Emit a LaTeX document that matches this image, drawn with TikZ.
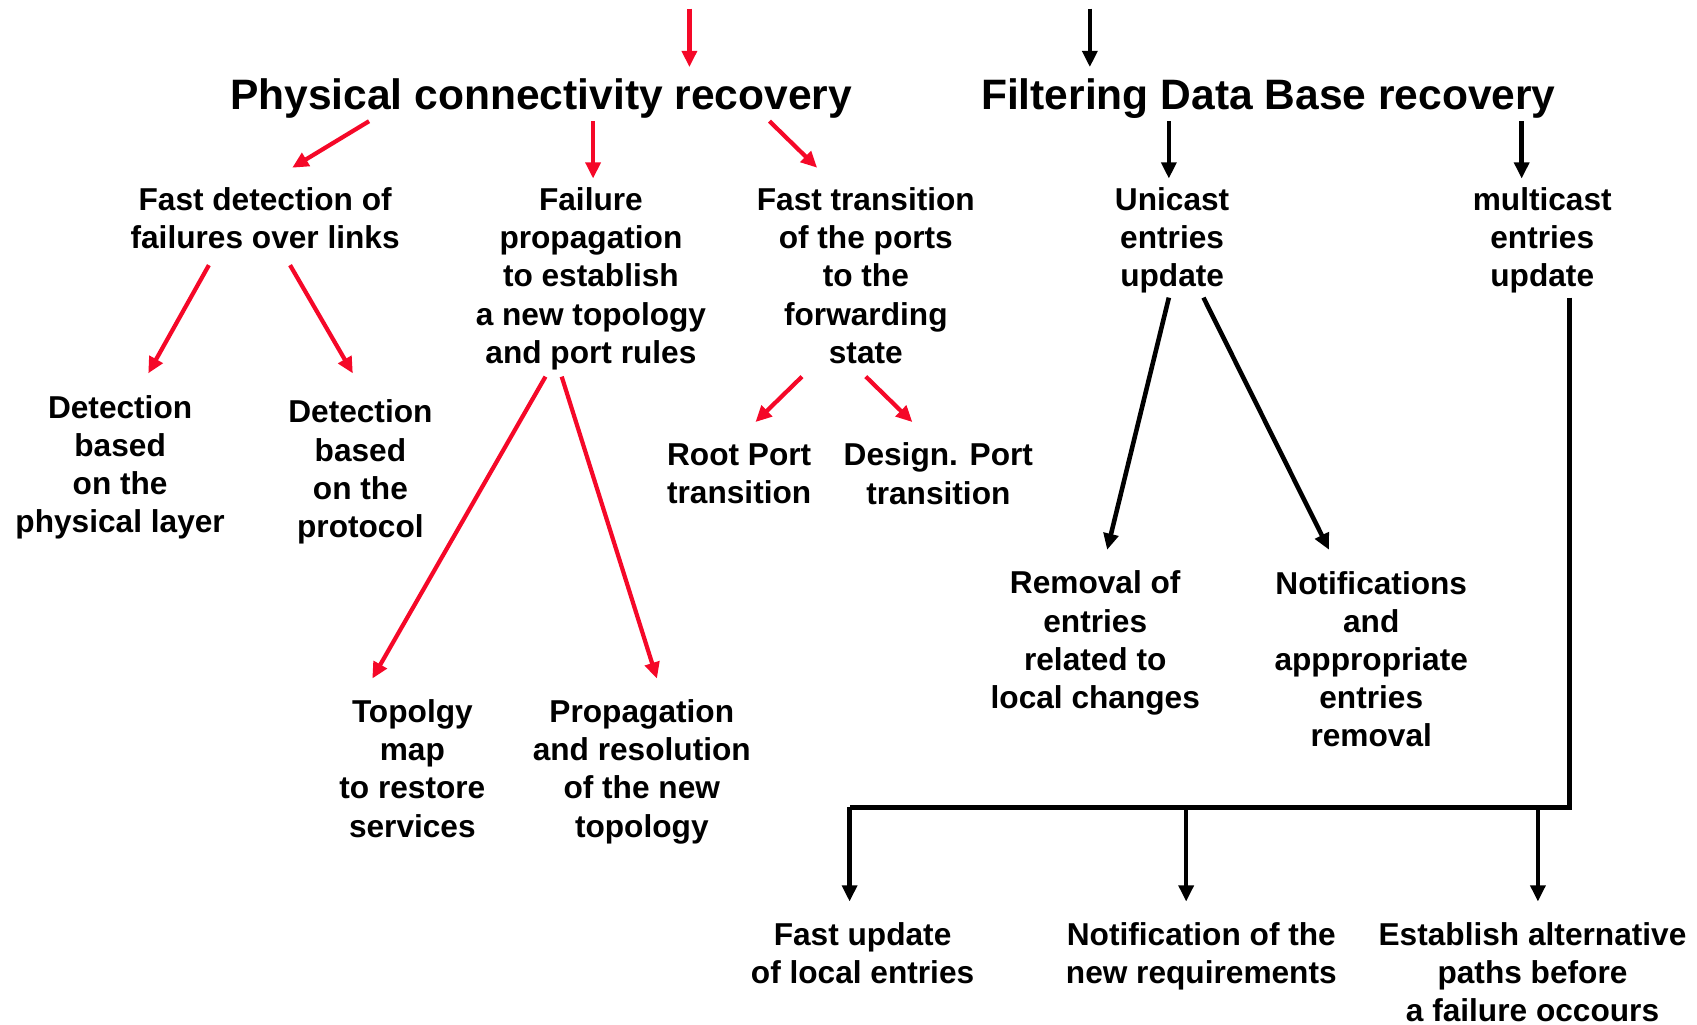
\documentclass[tikz,border=0pt]{standalone}
\usepackage{fontspec}
\setmainfont{Liberation Sans}
\usetikzlibrary{arrows.meta}
\definecolor{linkred}{RGB}{245,8,40}

\begin{document}
\begin{tikzpicture}[
        x=0.010823cm, y=-0.010823cm,
        >={Triangle[length=4.6pt, width=4.2pt]},
        txt/.style={align=center, inner sep=0pt, text depth=0pt, font=\fontsize{9}{10.85}\selectfont\bfseries},
        head/.style={inner sep=0pt, text depth=0pt, font=\fontsize{12.1}{14}\selectfont\bfseries},
        redlink/.style={->, draw=linkred, line width=1.2pt},
        blacklink/.style={->, line width=1.3pt},
        busline/.style={line width=1.4pt, line join=miter}
        ]

        \useasboundingbox (0,0) rectangle (1568,947);

        \coordinate (TopRed) at (637,8);
        \coordinate (TopBlack) at (1007,8);

        \node[head] (PhysRec) at (500,87) {Physical connectivity recovery};
        \node[head] (FDBRec) at (1172,87) {Filtering Data Base recovery};

        \node[txt] (FastDetect) at (245,201.5) {Fast detection of\\failures over links};
        \node[txt] (FailProp) at (546,254.5) {Failure\\propagation\\to establish\\a new topology\\and port rules};
        \node[txt] (FastTrans) at (800,254.5) {Fast transition\\of the ports\\to the\\forwarding\\state};
        \node[txt] (Unicast) at (1083,219) {Unicast\\entries\\update};
        \node[txt] (Multicast) at (1425,219) {multicast\\entries\\update};

        \node[txt] (DetPhys) at (111,429) {Detection\\based\\on the\\physical layer};
        \node[txt] (DetProto) at (333,433) {Detection\\based\\on the\\protocol};
        \node[txt] (RootPort) at (683,437.5) {Root Port\\transition};
        \node[txt] (DesigPort) at (867,437.5) {Design. Port\\transition};

        \node[txt] (TopoMap) at (381,710) {Topolgy\\map\\to restore\\services};
        \node[txt] (PropRes) at (593,710) {Propagation\\and resolution\\of the new\\topology};
        \node[txt] (Removal) at (1012,591) {Removal of\\entries\\related to\\local changes};
        \node[txt] (Notif) at (1267,609) {Notifications\\and\\apppropriate\\entries\\removal};

        \node[txt] (FastUpd) at (797,880.5) {Fast update\\of local entries};
        \node[txt] (NotifReq) at (1110,880.5) {Notification of the\\new requirements};
        \node[txt] (Establish) at (1416,898) {Establish alternative\\paths before\\a failure occours};

        \coordinate (BusLeft) at (785,746);
        \coordinate (BusMid) at (1096,746);
        \coordinate (BusRight) at (1421,746);

        % Edges
        \draw[redlink] (TopRed) -- ([shift={(137,-25)}]PhysRec.center);
        \draw[blacklink] (TopBlack) -- ([shift={(-165,-25)}]FDBRec.center);

        \draw[redlink] ([shift={(-159,25)}]PhysRec.center) -- ([shift={(25,-46.5)}]FastDetect.center);
        \draw[redlink] ([shift={(48,25)}]PhysRec.center) -- ([shift={(2,-89.5)}]FailProp.center);
        \draw[redlink] ([shift={(211,25)}]PhysRec.center) -- ([shift={(-45,-99.5)}]FastTrans.center);
        \draw[blacklink] ([shift={(-92,25)}]FDBRec.center) -- ([shift={(-3,-54)}]Unicast.center);
        \draw[blacklink] ([shift={(234,25)}]FDBRec.center) -- ([shift={(-19,-54)}]Multicast.center);

        \draw[redlink] ([shift={(-52,43.5)}]FastDetect.center) -- ([shift={(26,-84)}]DetPhys.center);
        \draw[redlink] ([shift={(23,43.5)}]FastDetect.center) -- ([shift={(-7,-88)}]DetProto.center);
        \draw[redlink] ([shift={(-42,93.5)}]FailProp.center) -- ([shift={(-37,-83)}]TopoMap.center);
        \draw[redlink] ([shift={(-27,93.5)}]FailProp.center) -- ([shift={(14,-83)}]PropRes.center);
        \draw[redlink] ([shift={(-59,93.5)}]FastTrans.center) -- ([shift={(15,-47.5)}]RootPort.center);
        \draw[redlink] ([shift={(0,93.5)}]FastTrans.center) -- ([shift={(-24,-47.5)}]DesigPort.center);

        \draw[blacklink] ([shift={(-3,56)}]Unicast.center) -- ([shift={(11,-83)}]Removal.center);
        \draw[blacklink] ([shift={(29,56)}]Unicast.center) -- ([shift={(-39,-101)}]Notif.center);

        \draw[busline] ([shift={(25,56)}]Multicast.center) |- (BusLeft);
        \draw[blacklink] (BusLeft) -- ([shift={(-12,-47.5)}]FastUpd.center);
        \draw[blacklink] (BusMid) -- ([shift={(-14,-47.5)}]NotifReq.center);
        \draw[blacklink] (BusRight) -- ([shift={(5,-65)}]Establish.center);

\end{tikzpicture}
\end{document}
